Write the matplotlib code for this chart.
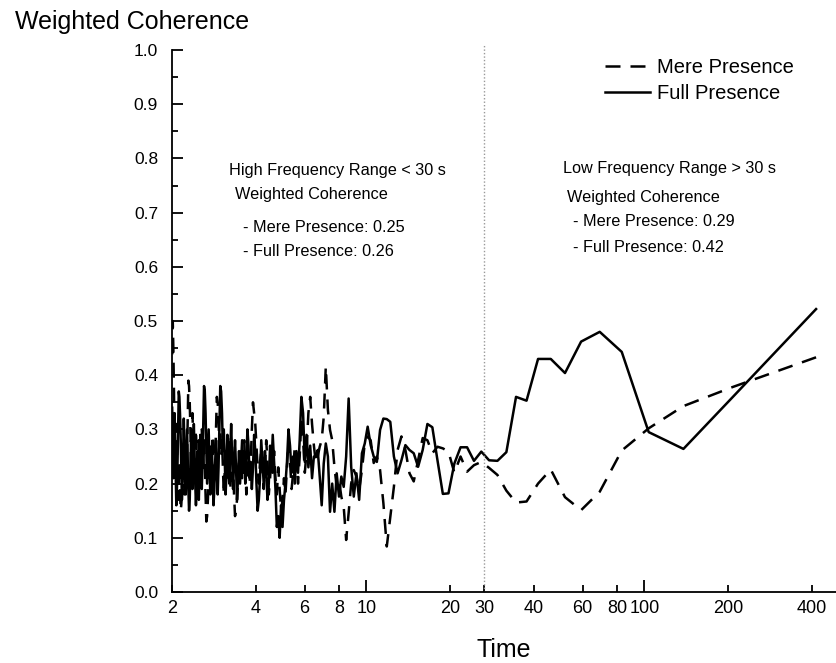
import matplotlib
matplotlib.use("Agg")
import matplotlib.pyplot as plt
from matplotlib.ticker import FixedLocator, FixedFormatter, MultipleLocator
import numpy as np

plt.rcParams['font.family'] = ['Liberation Sans', 'DejaVu Sans']

# Spectral grid: periods = record length / harmonic number
record_length = 414.6
harmonic = np.arange(1, 208)

full_presence = [
    # k 1-16
    0.522, 0.359, 0.264, 0.295, 0.443, 0.480, 0.462, 0.404, 0.430, 0.430, 0.353, 0.360, 0.258, 0.242, 0.243, 0.259,
    # k 17-32
    0.242, 0.267, 0.267, 0.237, 0.182, 0.181, 0.243, 0.304, 0.310, 0.262, 0.231, 0.256, 0.262, 0.271, 0.243, 0.219,
    # k 33-63
    0.250, 0.314, 0.319, 0.320, 0.299, 0.240, 0.250, 0.271, 0.305, 0.274, 0.256, 0.170, 0.219, 0.176, 0.231, 0.357,
    0.250, 0.194, 0.213, 0.176, 0.219, 0.148, 0.200, 0.148, 0.250, 0.274, 0.237, 0.160, 0.213, 0.262, 0.250,
    # k 64-118
    0.25, 0.21, 0.27, 0.23, 0.29, 0.24, 0.33, 0.36, 0.28, 0.22, 0.26, 0.20,
    0.25, 0.22, 0.27, 0.30, 0.24, 0.20, 0.17, 0.12, 0.16, 0.10, 0.14, 0.12, 0.19, 0.24, 0.29,
    0.23, 0.27, 0.20, 0.17, 0.22, 0.26, 0.20, 0.24, 0.28, 0.21, 0.17, 0.15, 0.20, 0.26, 0.29,
    0.23, 0.19, 0.24, 0.21, 0.27, 0.30, 0.24, 0.20, 0.26, 0.22, 0.28, 0.24, 0.20,
    # k 119-207
    0.26, 0.21, 0.17, 0.23, 0.28, 0.24, 0.19, 0.25, 0.31, 0.26, 0.20, 0.24,
    0.29, 0.22, 0.18, 0.25, 0.30, 0.26, 0.33, 0.37, 0.38, 0.30,
    0.23, 0.18, 0.22, 0.28, 0.24, 0.19, 0.16, 0.21, 0.27, 0.23,
    0.18, 0.24, 0.30, 0.25, 0.20, 0.27, 0.33, 0.37, 0.38, 0.31,
    0.24, 0.19, 0.25, 0.29, 0.22, 0.17, 0.21, 0.26, 0.20, 0.16,
    0.20, 0.26, 0.31, 0.25, 0.19, 0.23, 0.28, 0.22, 0.17, 0.15,
    0.19, 0.25, 0.30, 0.24, 0.18, 0.22, 0.27, 0.32, 0.26, 0.20,
    0.17, 0.23, 0.29, 0.33, 0.36, 0.37, 0.30, 0.24, 0.19, 0.16,
    0.22, 0.28, 0.33, 0.27, 0.21, 0.29, 0.34,
]

mere_presence = [
    # k 1-16
    0.433, 0.378, 0.343, 0.302, 0.261, 0.185, 0.151, 0.175, 0.226, 0.200, 0.167, 0.165, 0.187, 0.216, 0.229, 0.240,
    # k 17-32
    0.234, 0.222, 0.250, 0.220, 0.259, 0.265, 0.268, 0.256, 0.280, 0.284, 0.243, 0.204, 0.219, 0.262, 0.287, 0.262,
    # k 33-63
    0.194, 0.139, 0.084, 0.164, 0.225, 0.250, 0.238, 0.280, 0.287, 0.275, 0.225, 0.188, 0.213, 0.225, 0.200, 0.146,
    0.096, 0.157, 0.176, 0.207, 0.194, 0.231, 0.280, 0.299, 0.336, 0.416, 0.323, 0.280, 0.268, 0.250, 0.238,
    # k 64-118
    0.27, 0.31, 0.36, 0.33, 0.26, 0.22, 0.28, 0.32, 0.25, 0.20, 0.24, 0.27,
    0.22, 0.19, 0.24, 0.28, 0.23, 0.18, 0.21, 0.17, 0.15, 0.19, 0.23, 0.18, 0.21, 0.26, 0.22,
    0.25, 0.21, 0.18, 0.24, 0.28, 0.23, 0.19, 0.22, 0.26, 0.24, 0.20, 0.23, 0.27, 0.31, 0.33,
    0.35, 0.30, 0.24, 0.20, 0.25, 0.22, 0.18, 0.23, 0.28, 0.24, 0.21, 0.26, 0.23,
    # k 119-207
    0.24, 0.20, 0.17, 0.15, 0.14, 0.18, 0.23, 0.27, 0.22, 0.19, 0.25, 0.29,
    0.24, 0.20, 0.26, 0.22, 0.18, 0.23, 0.28, 0.25, 0.30, 0.27,
    0.32, 0.35, 0.36, 0.30, 0.24, 0.20, 0.25, 0.29, 0.23, 0.19,
    0.22, 0.26, 0.21, 0.17, 0.14, 0.13, 0.18, 0.24, 0.28, 0.22,
    0.26, 0.30, 0.25, 0.20, 0.24, 0.28, 0.23, 0.19, 0.25, 0.30,
    0.26, 0.21, 0.24, 0.29, 0.33, 0.27, 0.22, 0.30, 0.35, 0.38,
    0.39, 0.32, 0.25, 0.21, 0.26, 0.22, 0.18, 0.23, 0.27, 0.21,
    0.18, 0.16, 0.15, 0.19, 0.24, 0.20, 0.17, 0.22, 0.27, 0.31,
    0.26, 0.22, 0.30, 0.38, 0.45, 0.50, 0.42,
]

periods = record_length / harmonic

# boundary marker as drawn in the figure (labelled "30")
boundary_position = 26.5

x_major = [10, 100]
x_minor = [2, 4, 6, 8, 20, boundary_position, 40, 60, 80, 200, 400]
x_minor_labels = ["2", "4", "6", "8", "20", "30", "40", "60", "80", "200", "400"]

left_block = ["High Frequency Range < 30 s", "Weighted Coherence",
              "- Mere Presence: 0.25", "- Full Presence: 0.26"]
right_block = ["Low Frequency Range > 30 s", "Weighted Coherence",
               "- Mere Presence: 0.29", "- Full Presence: 0.42"]

W, H = 836, 663
fig = plt.figure(figsize=(W / 100, H / 100), dpi=100)
ax = fig.add_axes([172 / W, (H - 592) / H, 664 / W, 542 / H])

ax.plot(periods, mere_presence, color='black', lw=1.8, ls=(0, (6, 4)), label='Mere Presence')
ax.plot(periods, full_presence, color='black', lw=1.8, ls='-', label='Full Presence')
ax.axvline(boundary_position, ymin=0, ymax=1.01, color='#999999', lw=1.0, ls=(0, (1, 1.5)),
           clip_on=False)

ax.set_xscale('log')
ax.set_xlim(2, 489)
ax.set_ylim(0, 1.0)

ax.xaxis.set_major_locator(FixedLocator(x_major))
ax.xaxis.set_major_formatter(FixedFormatter([str(v) for v in x_major]))
ax.xaxis.set_minor_locator(FixedLocator(x_minor))
ax.xaxis.set_minor_formatter(FixedFormatter(x_minor_labels))
ax.yaxis.set_major_locator(MultipleLocator(0.1))
ax.yaxis.set_minor_locator(MultipleLocator(0.05))
ax.yaxis.set_major_formatter(plt.FuncFormatter(lambda v, p: f"{v:.1f}"))

for s in ['top', 'right']:
    ax.spines[s].set_visible(False)
for s in ['left', 'bottom']:
    ax.spines[s].set_linewidth(1.3)

ax.tick_params(axis='both', which='both', direction='in', width=1.3)
ax.tick_params(axis='x', which='both', labelsize=13)
ax.tick_params(axis='y', which='both', labelsize=12.5)
ax.tick_params(axis='x', which='major', length=9, pad=6)
ax.tick_params(axis='x', which='minor', length=5, pad=6)
ax.tick_params(axis='y', which='major', length=8, pad=10)
ax.tick_params(axis='y', which='minor', length=4.5)

fig.text(15 / W, 1 - 22 / H, "Weighted Coherence", fontsize=18, ha='left', va='center')
fig.text(504 / W, 1 - 650 / H, "Time", fontsize=18, ha='center', va='center')

lx = [229, 235, 243, 243]
ly = [170, 194, 227, 251]
for t, x, y in zip(left_block, lx, ly):
    fig.text(x / W, 1 - y / H, t, fontsize=11.7, ha='left', va='center')
rx = [563, 567, 573, 573]
ry = [168, 197, 222, 247]
for t, x, y in zip(right_block, rx, ry):
    fig.text(x / W, 1 - y / H, t, fontsize=11.7, ha='left', va='center')

ax.legend(loc='upper left', bbox_to_anchor=(605 / W, 1 - 58 / H), bbox_transform=fig.transFigure,
          frameon=False, fontsize=14.5, handlelength=2.25, handletextpad=0.35,
          labelspacing=0.35, borderpad=0, borderaxespad=0)

fig.savefig("out.png", dpi=100)
